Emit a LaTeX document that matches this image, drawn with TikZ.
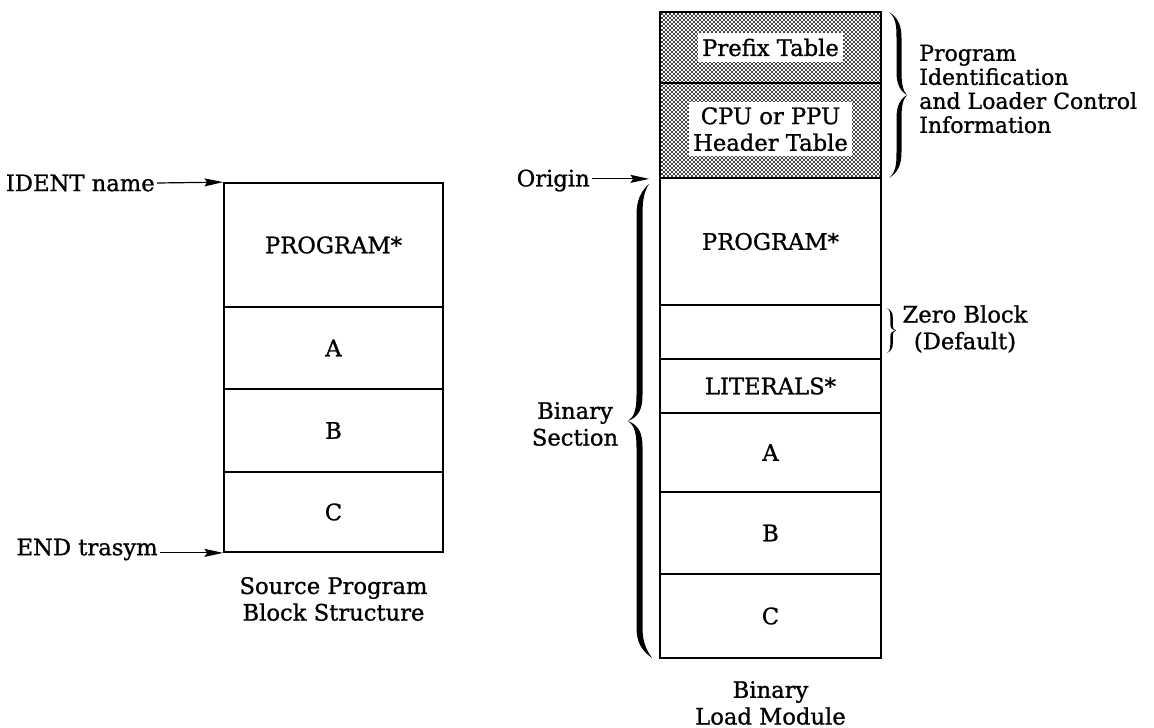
\documentclass[tikz,border=0pt]{standalone}
\usepackage{fontspec}
\setmainfont{DejaVu Serif}[FakeBold=1]
\usetikzlibrary{arrows.meta,patterns}
\pgfdeclarepatternformonly{densedots}{\pgfqpoint{-1pt}{-1pt}}{\pgfqpoint{4pt}{4pt}}{\pgfqpoint{3pt}{3pt}}{%
  \pgfpathcircle{\pgfqpoint{0pt}{0pt}}{0.8pt}%
  \pgfpathcircle{\pgfqpoint{1.5pt}{1.5pt}}{0.8pt}%
  \pgfusepath{fill}}
\begin{document}
\begin{tikzpicture}[x=0.75pt,y=-0.75pt,
  every node/.style={font=\fontsize{17}{20}\selectfont},
  cell/.style n args={2}{draw, line width=1.3pt, minimum width=#1*0.75pt, minimum height=#2*0.75pt, inner sep=0pt},
  lbl/.style={inner sep=0pt},
  knock/.style={fill=white, inner xsep=3pt, inner ysep=4pt, align=center},
  arr/.style={line width=0.9pt, -{Stealth[length=14pt,width=6pt,inset=2pt]}},
  bracefill/.style={fill=black, draw=none}
]
\useasboundingbox (0,0) rectangle (1154,728);

% ---- left column: source program ----
\node[cell={219}{124}] (lp) at (333.5,245) {PROGRAM*};
\node[cell={219}{82}]  (la) at (333.5,348) {A};
\node[cell={219}{83}]  (lb) at (333.5,430.5) {B};
\node[cell={219}{80}]  (lc) at (333.5,512) {C};

\node[lbl, anchor=east] (ident) at (155,183) {IDENT name};
\node[lbl, anchor=east] (endt) at (158,549.5) {END trasym};
\draw[arr] ([xshift=1.5pt]ident.east) -- (lp.north west);
\draw[arr] ([xshift=1.5pt]endt.east |- lc.south west) -- (lc.south west);

\node[lbl, align=center] (srccap) at (333.5,599) {Source Program\\Block Structure};

% ---- right column: binary load module ----
\node[cell={221}{71}, pattern=densedots] (prefix) at (770.5,47.5) {};
\node[knock] (prefixt) at (prefix) {Prefix Table};
\node[cell={221}{95}, pattern=densedots] (header) at (770.5,130.5) {};
\node[knock] (headert) at ([yshift=1pt]header) {CPU or PPU\\Header Table};

\node[cell={221}{127}] (rp)  at (770.5,241.5) {PROGRAM*};
\node[cell={221}{54}]  (zero) at (770.5,332) {};
\node[cell={221}{54}]  (lit) at (770.5,386) {LITERALS*};
\node[cell={221}{79}]  (ra)  at (770.5,452.5) {A};
\node[cell={221}{82}]  (rb)  at (770.5,533) {B};
\node[cell={221}{84}]  (rc)  at (770.5,616) {C};

\node[lbl, anchor=east] (origint) at (590,180.5) {Origin};
\coordinate (originpt) at ([xshift=-7.5pt]header.south west);
\draw[arr] ([xshift=1.5pt]origint.east |- originpt) -- (originpt);

\node[lbl, align=center] (bincap) at (770.5,703) {Binary\\Load Module};

% ---- braces and their labels ----
% Program identification brace
\fill[bracefill] (889,12) .. controls (896,18) and (896.5,26) .. (896.5,38) -- (896.5,72)
  .. controls (896.5,84) and (900,91) .. (907,95)
  .. controls (900,99) and (896.5,106) .. (896.5,118) -- (896.5,152)
  .. controls (896.5,164) and (896,172) .. (889,178)
  .. controls (898.5,172) and (901.5,164) .. (901.5,152) -- (901.5,118)
  .. controls (901.5,106) and (903,99) .. (907,95)
  .. controls (903,91) and (901.5,84) .. (901.5,72) -- (901.5,38)
  .. controls (901.5,26) and (898.5,18) .. (889,12) -- cycle;
\node[lbl, anchor=west, align=left, font=\fontsize{16.5}{18}\selectfont] (progid) at (919,89)
  {Program\\Identification\\and Loader Control\\Information};

% Zero block brace
\fill[bracefill] (887,308) .. controls (890,310) and (890.3,313) .. (890.3,317) -- (890.3,324)
  .. controls (890.3,328) and (892,330) .. (896,330.5)
  .. controls (892,331) and (890.3,333) .. (890.3,337) -- (890.3,344)
  .. controls (890.3,348) and (890,351) .. (887,353)
  .. controls (891,351) and (892.8,348) .. (892.8,344) -- (892.8,337)
  .. controls (892.8,333) and (893.5,331) .. (896,330.5)
  .. controls (893.5,330) and (892.8,328) .. (892.8,324) -- (892.8,317)
  .. controls (892.8,313) and (891,310) .. (887,308) -- cycle;
\node[lbl, align=center] (zerot) at (965,329) {Zero Block\\(Default)};

% Binary section brace
\fill[bracefill] (649,184) .. controls (641,191) and (636.5,200) .. (636.5,215) -- (636.5,395)
  .. controls (636.5,410) and (634,417) .. (628,421)
  .. controls (634,425) and (636.5,432) .. (636.5,447) -- (636.5,627)
  .. controls (636.5,642) and (641,650) .. (652,658)
  .. controls (645,648) and (642.5,640) .. (642.5,627) -- (642.5,447)
  .. controls (642.5,432) and (638,425) .. (628,421)
  .. controls (638,417) and (642.5,410) .. (642.5,395) -- (642.5,215)
  .. controls (642.5,200) and (644,192) .. (649,184) -- cycle;
\node[lbl, align=center] (binsec) at (575,424) {Binary\\Section};
\end{tikzpicture}
\end{document}
